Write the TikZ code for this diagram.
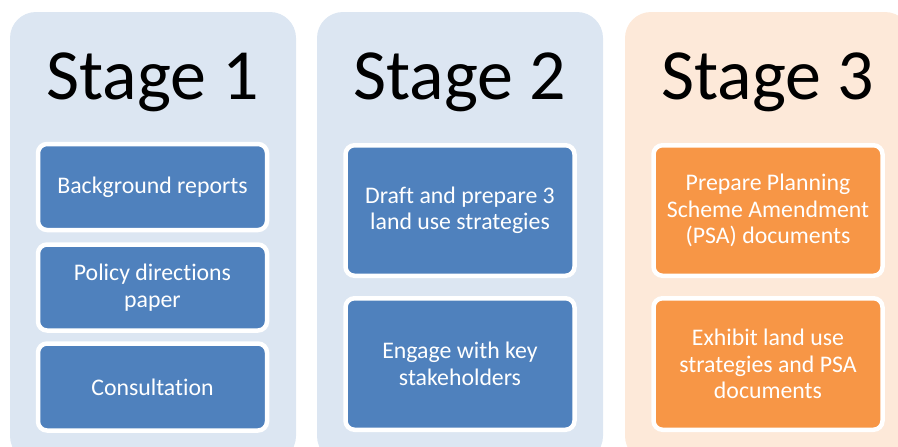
\documentclass[tikz,border=0pt]{standalone}
\usepackage{fontspec}
\setmainfont{Carlito}[Ligatures=NoCommon]
\usepackage{tikz}

\definecolor{panelblue}{HTML}{DCE6F2}
\definecolor{panelorange}{HTML}{FDE9D9}
\definecolor{boxblue}{HTML}{4F81BD}
\definecolor{boxorange}{HTML}{F79646}

\tikzset{
  panel/.style={rectangle, rounded corners=26pt, minimum width=286pt,
    minimum height=450pt, inner sep=0pt},
  stagetitle/.style={anchor=base, inner sep=0pt,
    font=\fontsize{72}{80}\selectfont},
  taskbox/.style={rectangle, rounded corners=9pt, draw=white, line width=4.5pt,
    minimum width=229pt, text=white, align=center,
    font=\fontsize{23.8}{26.5}\selectfont},
}

\begin{document}
\begin{tikzpicture}[x=1pt,y=-1pt]
  \useasboundingbox (0,0) rectangle (898,447);
  \clip (0,0) rectangle (898,447);

  % background panels
  \node[panel, fill=panelblue]   (p1) at (153,237) {};
  \node[panel, fill=panelblue]   (p2) at (460,237) {};
  \node[panel, fill=panelorange] (p3) at (768,237) {};

  \node[stagetitle] (t1) at (153,99) {Stage 1};
  \node[stagetitle] (t2) at (460,99) {Stage 2};
  \node[stagetitle] (t3) at (768,99) {Stage 3};

  % stage 1
  \node[taskbox, fill=boxblue, minimum height=86pt] (a1) at (152.5,187) {Background reports};
  \node[taskbox, fill=boxblue, minimum height=86pt] (a2) at (152.5,287.5) {Policy directions\\paper};
  \node[taskbox, fill=boxblue, minimum height=87pt] (a3) at (152.5,387) {Consultation};

  % stage 2
  \node[taskbox, fill=boxblue, minimum height=130.5pt] (b1) at (460,210.5) {Draft and prepare 3\\land use strategies};
  \node[taskbox, fill=boxblue, minimum height=131.5pt] (b2) at (460,364) {Engage with key\\stakeholders};

  % stage 3
  \node[taskbox, fill=boxorange, minimum height=130.5pt] (c1) at (768,210.5) {Prepare Planning\\Scheme Amendment\\(PSA) documents};
  \node[taskbox, fill=boxorange, minimum height=131.5pt] (c2) at (768,364) {Exhibit land use\\strategies and PSA\\documents};
\end{tikzpicture}
\end{document}
